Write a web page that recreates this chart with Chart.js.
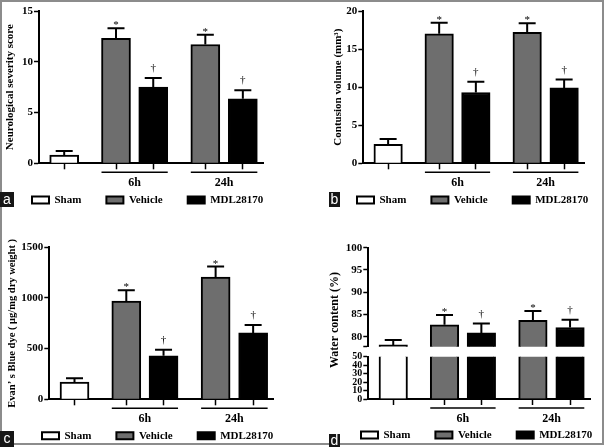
<!DOCTYPE html>
<html>
<head>
<meta charset="utf-8">
<script src="https://cdn.jsdelivr.net/npm/chart.js"></script>
<style>
  html, body { margin: 0; padding: 0; background: #fff; }
  body { width: 605px; height: 447px; position: relative; overflow: hidden; }
  canvas { position: absolute; }
  .frame { position: absolute; left: 0; top: 0; width: 600px; height: 441px; border: 2px solid #8c8c8c; pointer-events: none; z-index: 2; }
  .tag { position: absolute; z-index: 3; background: #161616; color: #fff; text-align: center;
         font: 14px "Liberation Sans", Arial, sans-serif; }
</style>
</head>
<body>
<canvas id="chartA" width="330" height="222" style="left:0;top:0"></canvas>
<canvas id="chartB" width="330" height="222" style="left:300px;top:0"></canvas>
<canvas id="chartC" width="330" height="232" style="left:0;top:222px"></canvas>
<canvas id="chartD1" width="340" height="232" style="left:300px;top:222px"></canvas>
<canvas id="chartD2" width="340" height="232" style="left:300px;top:222px"></canvas>
<div class="frame"></div>
<div class="tag" style="left:0;top:192px;width:14px;height:15px;line-height:14px">a</div>
<div class="tag" style="left:329px;top:192px;width:11px;height:15px;line-height:14px">b</div>
<div class="tag" style="left:0;top:431px;width:14px;height:16px;line-height:15px">c</div>
<div class="tag" style="left:329px;top:434px;width:11px;height:13px;line-height:12px">d</div>

<script>
// groups and bars (left to right: Sham, 6h Vehicle, 6h MDL, 24h Vehicle, 24h MDL)
const groups = ['Sham', 'Vehicle', 'MDL28170'];
const timepoints = ['6h', '24h'];
const barGroup = ['Sham', 'Vehicle', 'MDL28170', 'Vehicle', 'MDL28170'];
const barTime = ['', '6h', '6h', '24h', '24h'];
const barMark = ['', '*', '†', '*', '†'];

// a - neurological severity score
const severityMean = [0.8, 12.3, 7.5, 11.7, 6.35];
const severitySem = [0.4, 1.0, 0.9, 0.95, 0.85];
const severityTicks = [0, 5, 10, 15];

// b - contusion volume (mm3)
const contusionMean = [2.5, 17.0, 9.3, 17.2, 9.9];
const contusionSem = [0.7, 1.45, 1.4, 1.2, 1.1];
const contusionTicks = [0, 5, 10, 15, 20];

// c - Evans blue
const evansMean = [170, 970, 430, 1205, 655];
const evansSem = [38, 105, 60, 105, 77];
const evansTicks = [0, 500, 1000, 1500];

// d - water content (%), broken axis
const waterMean = [78.2, 82.7, 80.9, 83.7, 82.1];
const waterSem = [1.1, 2.2, 2.1, 2.1, 1.75];
const waterTicksUpper = [80, 85, 90, 95, 100];
const waterTicksLower = [0, 10, 20, 30, 40, 50];

// layout
const slotX = [0.9, 2.75, 4.08, 5.94, 7.28];
const xMax = 8;
const barColors = { 'Sham': '#ffffff', 'Vehicle': '#6e6e6e', 'MDL28170': '#000000' };
const serif = '"Liberation Serif", "Times New Roman", serif';

const barExtras = {
  id: 'barExtras',
  afterDatasetsDraw(chart, args, opts) {
    if (!opts.errors) return;
    const ctx = chart.ctx;
    const yScale = chart.scales.y;
    ctx.save();
    ctx.strokeStyle = '#000';
    ctx.fillStyle = '#000';
    ctx.lineWidth = 2;
    ctx.textAlign = 'center';
    ctx.textBaseline = 'alphabetic';
    ctx.font = '11px ' + serif;
    chart.data.datasets.forEach((ds, di) => {
      chart.getDatasetMeta(di).data.forEach((bar, i) => {
        const pt = ds.data[i];
        const top = yScale.getPixelForValue(pt.y + pt.sem);
        ctx.beginPath();
        ctx.moveTo(bar.x, bar.y);
        ctx.lineTo(bar.x, top);
        ctx.moveTo(bar.x - 8.5, top);
        ctx.lineTo(bar.x + 8.5, top);
        ctx.stroke();
        if (pt.mark === '*') ctx.fillText(pt.mark, bar.x, top);
        else if (pt.mark) ctx.fillText(pt.mark, bar.x, top - 7);
      });
    });
    ctx.restore();
  },
  afterDraw(chart, args, opts) {
    const ctx = chart.ctx;
    const area = chart.chartArea;
    ctx.save();
    ctx.fillStyle = '#000';
    ctx.strokeStyle = '#000';
    ctx.textAlign = 'center';
    ctx.textBaseline = 'middle';
    if (opts.groups) {
      const xs = chart.scales.x;
      const half = opts.barWidth / 2;
      ctx.lineWidth = 1.5;
      ctx.font = 'bold 12px ' + serif;
      timepoints.forEach(t => {
        const idx = barTime.map((v, i) => v === t ? i : -1).filter(i => i >= 0);
        const x1 = xs.getPixelForValue(slotX[idx[0]]) - half;
        const x2 = xs.getPixelForValue(slotX[idx[idx.length - 1]]) + half;
        ctx.beginPath();
        ctx.moveTo(x1, area.bottom + 9);
        ctx.lineTo(x2, area.bottom + 9);
        ctx.stroke();
        ctx.fillText(t, (x1 + x2) / 2, area.bottom + 20);
      });
    }
    if (opts.sideTitle) {
      const st = opts.sideTitle;
      ctx.font = 'bold 12px ' + serif;
      ctx.translate(st.x, st.y);
      ctx.rotate(-Math.PI / 2);
      ctx.fillText(st.text, 0, 0);
    }
    ctx.restore();
  }
};

function makeChart(p, means, sems, ticks) {
  const datasets = groups.map(g => ({
    label: g,
    data: barGroup.map((name, i) => name === g
      ? { x: slotX[i], y: means[i], sem: sems[i], mark: barMark[i] } : null).filter(d => d),
    backgroundColor: barColors[g],
    borderColor: '#000',
    borderWidth: 2,
    barThickness: p.barWidth,
    grouped: false,
    clip: 0,
    xAxisID: 'x',
    yAxisID: 'y'
  }));

  const tickValues = p.breakTick ? [p.min].concat(ticks) : ticks;

  return new Chart(document.getElementById(p.canvas), {
    type: 'bar',
    data: { datasets: datasets },
    options: {
      responsive: false,
      animation: false,
      events: [],
      layout: { padding: { left: p.padLeft, right: 0, top: p.padTop, bottom: p.padBottom } },
      scales: {
        x: {
          type: 'linear',
          display: p.showX,
          min: 0,
          max: xMax,
          offset: false,
          afterBuildTicks: s => { s.ticks = slotX.map(v => ({ value: v })); },
          afterFit: s => { s.height = p.xHeight; },
          grid: { drawOnChartArea: false, drawTicks: true, tickLength: 6, tickColor: '#000', tickWidth: 1.5, offset: false },
          border: { color: '#000', width: 2 },
          ticks: { display: false }
        },
        y: {
          type: 'linear',
          min: p.min,
          max: p.max,
          afterBuildTicks: s => { s.ticks = tickValues.map(v => ({ value: v })); },
          afterFit: s => { s.width = p.yWidth; },
          grid: { drawOnChartArea: false, tickLength: 5, tickColor: '#000', tickWidth: 1.5 },
          border: { color: '#000', width: 2 },
          ticks: {
            color: '#000',
            padding: 1,
            autoSkip: false,
            font: { family: serif, size: p.tickSize, weight: 'bold', lineHeight: 1 },
            callback: v => ticks.includes(v) ? String(v) : ''
          },
          title: {
            display: !!p.title,
            text: p.title,
            color: '#000',
            font: { family: serif, size: p.titleSize, weight: 'bold' },
            padding: { top: p.titleShift, bottom: 0 }
          }
        },
        yr: {
          type: 'linear',
          position: 'right',
          grid: { display: false },
          border: { display: false },
          ticks: { display: false },
          afterFit: s => { s.width = p.rightWidth; }
        }
      },
      plugins: {
        legend: {
          display: p.legend,
          position: 'bottom',
          align: 'start',
          labels: {
            boxWidth: 17,
            boxHeight: 7,
            padding: 25,
            color: '#000',
            font: { family: serif, size: 11, weight: 'bold' }
          }
        },
        tooltip: { enabled: false },
        barExtras: { errors: p.errors, groups: p.showX, barWidth: p.barWidth, sideTitle: p.sideTitle || null }
      }
    },
    plugins: [barExtras]
  });
}

makeChart({
  canvas: 'chartA', padLeft: 7, yWidth: 32, rightWidth: 67, padTop: 11, padBottom: 6.5, xHeight: 6.2,
  barWidth: 29, min: 0, max: 15, tickSize: 11, showX: true, legend: true, errors: true,
  title: 'Neurological severity score', titleSize: 11, titleShift: -3.1
}, severityMean, severitySem, severityTicks);

makeChart({
  canvas: 'chartB', padLeft: 32, yWidth: 31.3, rightWidth: 46, padTop: 11, padBottom: 6.5, xHeight: 6.2,
  barWidth: 28.5, min: 0, max: 20, tickSize: 11, showX: true, legend: true, errors: true,
  title: 'Contusion volume (mm³)', titleSize: 11, titleShift: -0.6
}, contusionMean, contusionSem, contusionTicks);

makeChart({
  canvas: 'chartC', padLeft: 17, yWidth: 32.3, rightWidth: 56.7, padTop: 25.3, padBottom: 2.8, xHeight: 5.9,
  barWidth: 29, min: 0, max: 1500, tickSize: 11, showX: true, legend: true, errors: true,
  title: 'Evan’ s Blue dye ( μg/mg dry weight )', titleSize: 10.5, titleShift: -10.8
}, evansMean, evansSem, evansTicks);

// d: upper segment of the broken axis
makeChart({
  canvas: 'chartD1', padLeft: 36, yWidth: 32.3, rightWidth: 50, padTop: 25.7, padBottom: 107.3, xHeight: 0,
  barWidth: 28.5, min: 77.8, max: 100, breakTick: true, tickSize: 11, showX: false, legend: false, errors: true,
  title: '', titleSize: 11, titleShift: 0
}, waterMean, waterSem, waterTicksUpper);

// d: lower segment, with the legend
makeChart({
  canvas: 'chartD2', padLeft: 36, yWidth: 32.3, rightWidth: 50, padTop: 134.7, padBottom: 3.5, xHeight: 5.5,
  barWidth: 28.5, min: 0, max: 50, tickSize: 10, showX: true, legend: true, errors: false,
  title: '', titleSize: 11, titleShift: 0,
  sideTitle: { text: 'Water content (%)', x: 35, y: 98 }
}, waterMean, waterSem, waterTicksLower);
</script>
</body>
</html>
